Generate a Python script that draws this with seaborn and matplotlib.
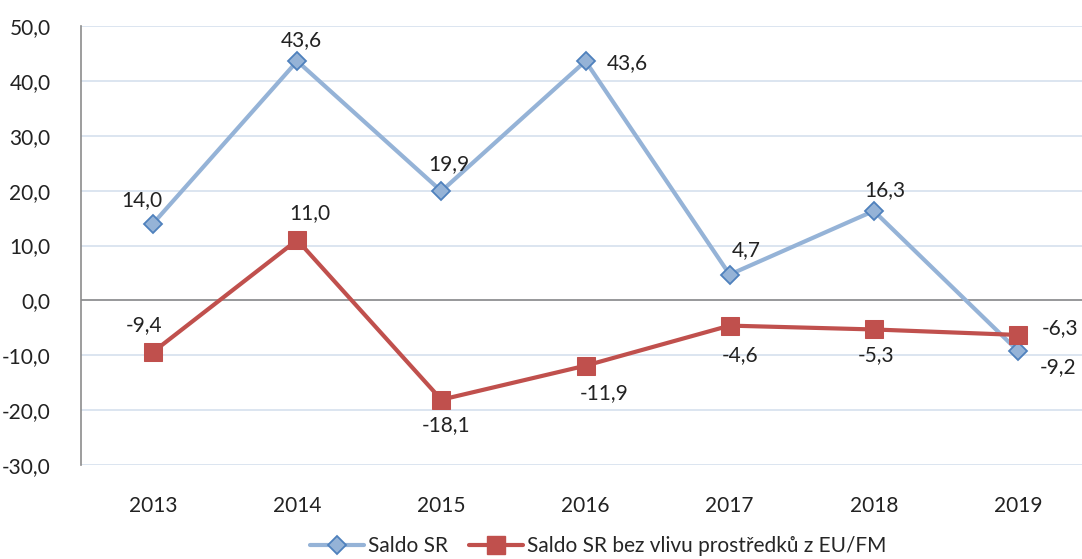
import pandas as pd
import numpy as np
import matplotlib.pyplot as plt
import seaborn as sns
from matplotlib.lines import Line2D

# Datos
roky = ['2013', '2014', '2015', '2016', '2017', '2018', '2019']
saldo_sr = [14.0, 43.6, 19.9, 43.6, 4.7, 16.3, -9.2]
saldo_bez_eu = [-9.4, 11.0, -18.1, -11.9, -4.6, -5.3, -6.3]
nazvy = ['Saldo SR', 'Saldo SR bez vlivu prostředků z EU/FM']
y_ticks = [-30, -20, -10, 0, 10, 20, 30, 40, 50]

df = pd.DataFrame({'rok': roky * 2,
                   'hodnota': saldo_sr + saldo_bez_eu,
                   'serie': [nazvy[0]] * 7 + [nazvy[1]] * 7})

sns.set_theme(style='white')
plt.rcParams['font.family'] = ['Lato', 'DejaVu Sans']

modra = '#95B3D7'
modra_okraj = '#4F81BD'
cervena = '#C0504D'

fig = plt.figure(figsize=(10.82, 5.59), dpi=100)
ax = fig.add_axes([81 / 1082, 1 - 465 / 559, 1009 / 1082, 439 / 559])

sns.lineplot(data=df[df['serie'] == nazvy[0]], x='rok', y='hodnota', ax=ax,
             color=modra, linewidth=3, marker='D', markersize=9.5,
             markerfacecolor=modra, markeredgecolor=modra_okraj, markeredgewidth=1.3,
             sort=False, zorder=4)
sns.lineplot(data=df[df['serie'] == nazvy[1]], x='rok', y='hodnota', ax=ax,
             color=cervena, linewidth=3, marker='s', markersize=13,
             markerfacecolor=cervena, markeredgecolor=cervena,
             sort=False, zorder=5)

ax.set_xlim(-0.5, 6.5)
ax.set_ylim(-30, 50)
ax.set_yticks(y_ticks)
ax.set_yticklabels([f'{v:.1f}'.replace('.', ',') for v in y_ticks])
ax.grid(axis='y', color='#D5E0EE', linewidth=1.2)
ax.grid(axis='x', visible=False)
ax.axhline(0, color='#8C8C8C', linewidth=1.2, zorder=2)
for s in ['top', 'right', 'bottom']:
    ax.spines[s].set_visible(False)
ax.spines['left'].set_color('#8C8C8C')
ax.spines['left'].set_linewidth(1.2)
ax.tick_params(axis='both', labelsize=15, colors='#222222', length=0)
ax.tick_params(axis='y', pad=22)
ax.tick_params(axis='x', pad=22)
ax.set_xlabel('')
ax.set_ylabel('')

# Popisky hodnot (posun v pixelech)
posun_modra = [(-11, 23), (4, 21), (7, 27), (42, -2), (17, 24), (11, 21), (40, -16)]
posun_cervena = [(-9, 27), (13, 27), (5, -25), (19, -27), (10, -29), (2, -26), (42, 7)]
for i, (v, d) in enumerate(zip(saldo_sr, posun_modra)):
    ax.annotate(f'{v:.1f}'.replace('.', ','), (i, v), xytext=d, textcoords='offset pixels',
                ha='center', va='center', fontsize=15, color='#222222', zorder=6)
for i, (v, d) in enumerate(zip(saldo_bez_eu, posun_cervena)):
    ax.annotate(f'{v:.1f}'.replace('.', ','), (i, v), xytext=d, textcoords='offset pixels',
                ha='center', va='center', fontsize=15, color='#222222', zorder=6)

handles = [Line2D([], [], color=modra, linewidth=3, marker='D', markersize=9.5,
                  markerfacecolor=modra, markeredgecolor=modra_okraj, markeredgewidth=1.3),
           Line2D([], [], color=cervena, linewidth=3, marker='s', markersize=13,
                  markerfacecolor=cervena, markeredgecolor=cervena)]
fig.legend(handles, nazvy, loc='center', bbox_to_anchor=(598 / 1082, 1 - 546 / 559),
           ncol=2, frameon=False, fontsize=15, handlelength=2.6, handletextpad=0.2,
           columnspacing=1.0, borderaxespad=0)

fig.savefig('out.png', dpi=100)
